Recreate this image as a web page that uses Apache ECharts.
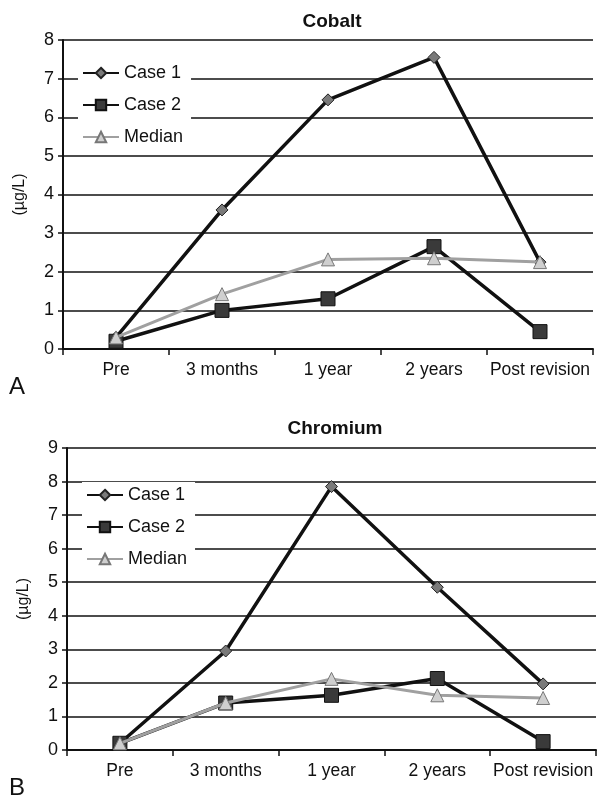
<!DOCTYPE html>
<html>
<head>
<meta charset="utf-8">
<script src="https://cdn.jsdelivr.net/npm/echarts@6/dist/echarts.min.js"></script>
<style>
html,body{margin:0;padding:0;background:#fff}
#main{width:601px;height:797px}
</style>
</head>
<body>
<div id="main"></div>
<script>
// categories and values
var categories = ['Pre', '3 months', '1 year', '2 years', 'Post revision'];
var seriesNames = ['Case 1', 'Case 2', 'Median'];

var cobaltCase1 = [0.3, 3.6, 6.45, 7.55, 2.25];
var cobaltCase2 = [0.2, 1.0, 1.3, 2.65, 0.45];
var cobaltMedian = [0.3, 1.42, 2.32, 2.35, 2.25];

var chromiumCase1 = [0.2, 2.95, 7.85, 4.85, 1.97];
var chromiumCase2 = [0.2, 1.4, 1.63, 2.13, 0.25];
var chromiumMedian = [0.2, 1.4, 2.12, 1.63, 1.55];

var font = 'Liberation Sans, Arial, sans-serif';

function mkSeries(name, data, idx) {
  var base = {
    name: name, type: 'line', data: data,
    xAxisIndex: idx, yAxisIndex: idx,
    showAllSymbol: true, z: 3
  };
  if (name === 'Case 1') {
    base.symbol = 'diamond'; base.symbolSize = 12;
    base.lineStyle = { color: '#111', width: 3.5 };
    base.itemStyle = { color: '#7a7a7a', borderColor: '#222', borderWidth: 1 };
  } else if (name === 'Case 2') {
    base.symbol = 'rect'; base.symbolSize = 14;
    base.lineStyle = { color: '#111', width: 3.5 };
    base.itemStyle = { color: '#3a3a3a', borderColor: '#111', borderWidth: 1 };
  } else {
    base.symbol = 'triangle'; base.symbolSize = 13;
    base.lineStyle = { color: '#a0a0a0', width: 3 };
    base.itemStyle = { color: '#cfcfcf', borderColor: '#777', borderWidth: 1 };
    base.z = 4;
  }
  return base;
}

function mkY(idx, max) {
  return {
    type: 'value', gridIndex: idx, min: 0, max: max, interval: 1,
    name: '(µg/L)', nameLocation: 'middle', nameGap: 35, nameRotate: 90,
    nameTextStyle: { fontFamily: font, fontSize: 16, color: '#111' },
    axisLine: { show: true, lineStyle: { color: '#111', width: 2 } },
    axisTick: { show: true, length: 5, lineStyle: { color: '#111', width: 1.5 } },
    axisLabel: { fontFamily: font, fontSize: 18, color: '#111', margin: 9 },
    splitLine: { show: true, lineStyle: { color: '#111', width: 1.5 } }
  };
}

function mkX(idx) {
  return {
    type: 'category', gridIndex: idx, data: categories, boundaryGap: true,
    axisLine: { show: true, lineStyle: { color: '#111', width: 2 } },
    axisTick: { show: true, length: 6, lineStyle: { color: '#111', width: 1.5 } },
    axisLabel: { fontFamily: font, fontSize: 17.5, color: '#111', margin: 12, interval: 0 }
  };
}

function mkLegend(idx, top, left) {
  return {
    data: seriesNames, orient: 'vertical', left: left, top: top,
    itemGap: 14, itemWidth: 36, itemHeight: 13, itemStyle: {},
    backgroundColor: '#fff', padding: [4, 8, 4, 4],
    textStyle: { fontFamily: font, fontSize: 18, color: '#111' },
    selectedMode: false
  };
}

var chart = echarts.init(document.getElementById('main'));
chart.setOption({
  animation: false,
  backgroundColor: '#fff',
  title: [
    { text: 'Cobalt', left: 327, top: 7, textAlign: 'center',
      textStyle: { fontFamily: font, fontSize: 19, fontWeight: 'bold', color: '#111' } },
    { text: 'Chromium', left: 330, top: 414, textAlign: 'center',
      textStyle: { fontFamily: font, fontSize: 19, fontWeight: 'bold', color: '#111' } },
    { text: 'A', left: 4, top: 370,
      textStyle: { fontFamily: font, fontSize: 24, fontWeight: 'normal', color: '#111' } },
    { text: 'B', left: 4, top: 771,
      textStyle: { fontFamily: font, fontSize: 24, fontWeight: 'normal', color: '#111' } }
  ],
  legend: [mkLegend(0, 60, 78), mkLegend(1, 482, 82)],
  grid: [
    { left: 63, right: 8, top: 40, height: 309 },
    { left: 67, right: 5, top: 448, height: 302 }
  ],
  xAxis: [mkX(0), mkX(1)],
  yAxis: [mkY(0, 8), mkY(1, 9)],
  series: [
    mkSeries('Case 1', cobaltCase1, 0),
    mkSeries('Case 2', cobaltCase2, 0),
    mkSeries('Median', cobaltMedian, 0),
    mkSeries('Case 1', chromiumCase1, 1),
    mkSeries('Case 2', chromiumCase2, 1),
    mkSeries('Median', chromiumMedian, 1)
  ]
});
</script>
</body>
</html>
